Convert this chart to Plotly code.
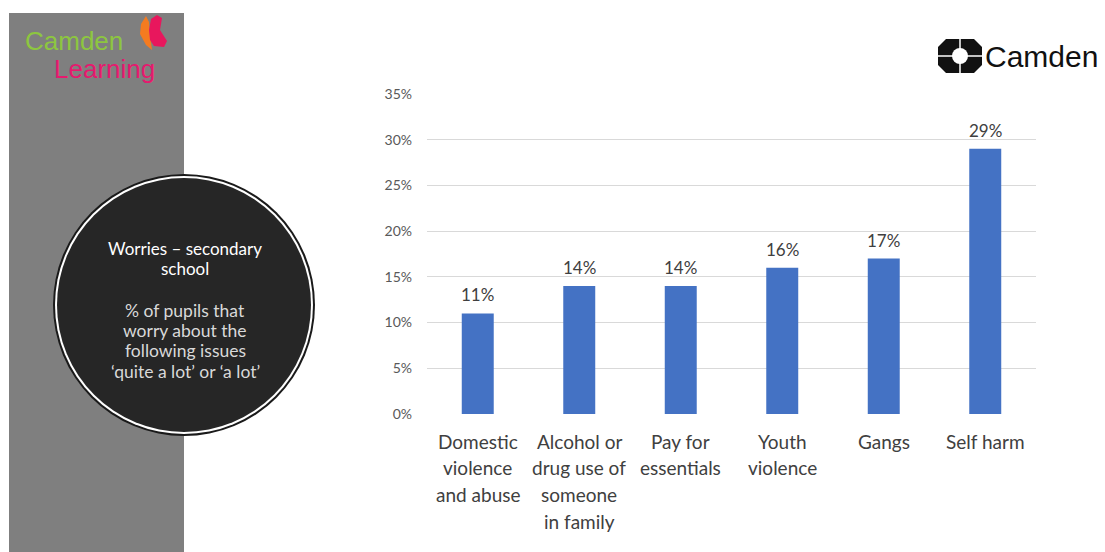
import plotly.graph_objects as go

categories = ["Domestic violence and abuse", "Alcohol or drug use of someone in family",
              "Pay for essentials", "Youth violence", "Gangs", "Self harm"]
label_lines = [["Domestic", "violence", "and abuse"],
               ["Alcohol or", "drug use of", "someone", "in family"],
               ["Pay for", "essentials"],
               ["Youth", "violence"],
               ["Gangs"],
               ["Self harm"]]
values = [0.11, 0.14, 0.14, 0.16, 0.17, 0.29]
y_ticks = [0, 0.05, 0.10, 0.15, 0.20, 0.25, 0.30, 0.35]
y_tick_text = ["0%", "5%", "10%", "15%", "20%", "25%", "30%", "35%"]
title_lines = ["Worries – secondary", "school"]
body_lines = ["% of pupils that", "worry about the", "following issues", "‘quite a lot’ or ‘a lot’"]

W, H = 1105, 552
L, R, T, B = 427, 69, 94, 138
PW, PH = W - L - R, H - T - B


def px(x):
    return (x - L) / PW


def py(y):
    return (H - B - y) / PH


FONT = "Lato"

fig = go.Figure()
fig.add_trace(go.Bar(
    x=categories, y=values, marker=dict(color="#4472C4", line=dict(width=0)),
    cliponaxis=False, width=0.315,
))

shapes = []
# grey side panel
shapes.append(dict(type="rect", xref="paper", yref="paper", x0=px(9), x1=px(184), y0=py(13), y1=py(552),
                   fillcolor="#7f7f7f", line=dict(width=0), layer="above"))
# circle
cx, cy = 184, 305
for r, col in [(131, "#1a1a1a"), (129, "#ffffff"), (127, "#262626")]:
    shapes.append(dict(type="circle", xref="paper", yref="paper",
                       x0=px(cx - r), x1=px(cx + r), y0=py(cy + r), y1=py(cy - r),
                       fillcolor=col, line=dict(width=0), layer="above"))


def path(points):
    s = "M " + " L ".join(f"{px(a)},{py(b)}" for a, b in points) + " Z"
    return s


# Camden Learning butterfly
shapes.append(dict(type="path", xref="paper", yref="paper",
                   path=path([(146, 16), (141, 24), (140, 34), (146, 45), (152, 50), (150, 35), (149, 22)]),
                   fillcolor="#f47b20", line=dict(width=0), layer="above"))
shapes.append(dict(type="path", xref="paper", yref="paper",
                   path=path([(151, 19), (157, 15), (162, 18), (160, 30), (167, 41), (164, 47), (154, 46), (150, 40), (149, 30)]),
                   fillcolor="#e8175d", line=dict(width=0), layer="above"))

# Camden emblem
ex, ey = 960, 56
shapes.append(dict(type="path", xref="paper", yref="paper",
                   path=path([(ex - 14, ey - 17), (ex + 14, ey - 17), (ex + 22, ey - 9), (ex + 22, ey + 9),
                              (ex + 14, ey + 17), (ex - 14, ey + 17), (ex - 22, ey + 9), (ex - 22, ey - 9)]),
                   fillcolor="#111111", line=dict(width=0), layer="above"))
shapes.append(dict(type="circle", xref="paper", yref="paper",
                   x0=px(ex - 8), x1=px(ex + 8), y0=py(ey + 8), y1=py(ey - 8),
                   fillcolor="#ffffff", line=dict(width=0), layer="above"))
shapes.append(dict(type="line", xref="paper", yref="paper",
                   x0=px(ex), x1=px(ex), y0=py(ey - 17), y1=py(ey + 17),
                   line=dict(color="#ffffff", width=1.5), layer="above"))
shapes.append(dict(type="line", xref="paper", yref="paper",
                   x0=px(ex - 22), x1=px(ex + 22), y0=py(ey), y1=py(ey),
                   line=dict(color="#ffffff", width=1.5), layer="above"))

annotations = []
# data labels
for cat, v in zip(categories, values):
    annotations.append(dict(x=cat, xref="x", y=v, yref="y", yanchor="bottom", xanchor="center",
                            yshift=6, text=f"{round(v * 100)}%", showarrow=False,
                            font=dict(family=FONT, size=17, color="#404040")))
# category labels
for cat, lines in zip(categories, label_lines):
    for i, line in enumerate(lines):
        annotations.append(dict(x=cat, xref="x", y=0, yref="paper", yanchor="middle", xanchor="center",
                                yshift=-(27 + 26.7 * i), text=line, showarrow=False,
                                font=dict(family=FONT, size=19, color="#404040")))

# circle text
for i, line in enumerate(title_lines):
    annotations.append(dict(x=px(185), y=py(248 + 20.5 * i), xref="paper", yref="paper",
                            xanchor="center", yanchor="middle", text=line, showarrow=False,
                            borderpad=0, font=dict(family=FONT, size=17, color="#ffffff")))
for i, line in enumerate(body_lines):
    annotations.append(dict(x=px(185), y=py(310 + 20.4 * i), xref="paper", yref="paper",
                            xanchor="center", yanchor="middle", text=line, showarrow=False,
                            borderpad=0, font=dict(family=FONT, size=17.5, color="#d9d9d9")))
# logos text
annotations.append(dict(x=px(24), y=py(41), xref="paper", yref="paper", xanchor="left", yanchor="middle",
                        text="Camden", showarrow=False, borderpad=0,
                        font=dict(family="Liberation Sans", size=26, color="#8dc63f")))
annotations.append(dict(x=px(53), y=py(69), xref="paper", yref="paper", xanchor="left", yanchor="middle",
                        text="Learning", showarrow=False, borderpad=0,
                        font=dict(family="Liberation Sans", size=26, color="#e6196e")))
annotations.append(dict(x=px(983), y=py(57), xref="paper", yref="paper", xanchor="left", yanchor="middle",
                        text="Camden", showarrow=False,
                        font=dict(family="Liberation Sans", size=30, color="#111111")))

fig.update_layout(
    width=W, height=H, margin=dict(l=L, r=R, t=T, b=B),
    paper_bgcolor="#ffffff", plot_bgcolor="#ffffff",
    showlegend=False, shapes=shapes, annotations=annotations,
    font=dict(family=FONT),
    xaxis=dict(showticklabels=False, showgrid=False, zeroline=False, showline=False, ticks=""),
    yaxis=dict(range=[0, 0.35], tickvals=y_ticks, ticktext=y_tick_text, showgrid=True,
               gridcolor="#d9d9d9", gridwidth=1, zeroline=False, showline=False, ticks="",
               tickfont=dict(family=FONT, size=14, color="#595959"), ticklabelstandoff=14),
)

fig.write_html("out.html")
